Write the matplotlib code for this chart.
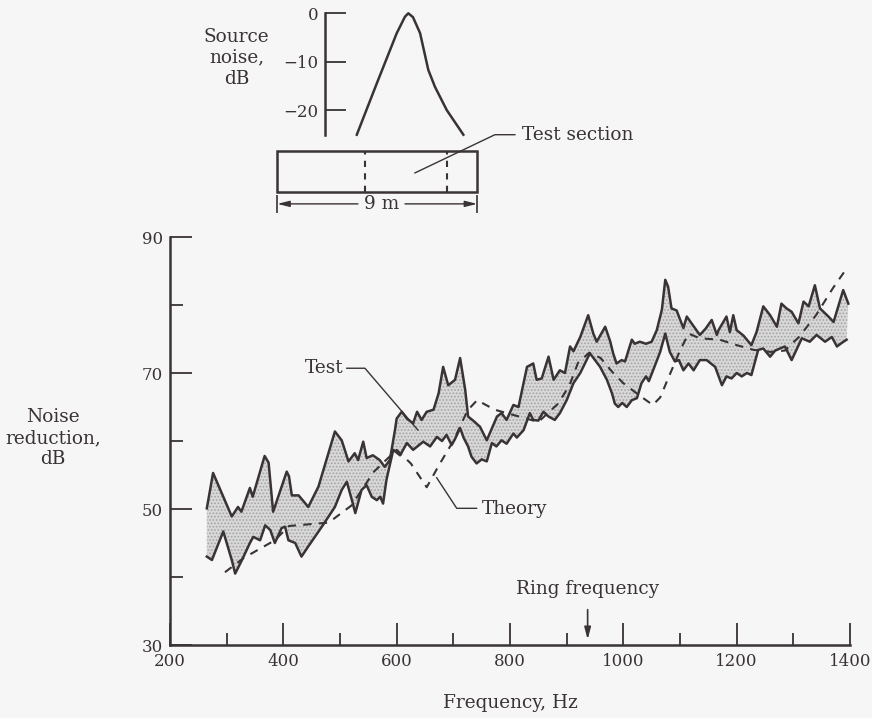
import numpy as np
import matplotlib.pyplot as plt
from matplotlib.patches import Rectangle

plt.rcParams['font.family'] = ['DejaVu Serif']
plt.rcParams['font.size'] = 12
plt.rcParams['hatch.linewidth'] = 0.8

ink = '#3a3335'
bg = '#f6f6f6'
txt = 13.3

# measured noise reduction, upper and lower edges of the band (Hz, dB)
upper_hz = [265, 276, 309, 320, 326, 341, 346, 367, 374, 382, 406, 410, 415, 427, 444,
            462, 491, 503, 515, 526, 532, 541, 547, 558, 570, 579, 588, 597, 600, 609,
            618, 629, 636, 644, 653, 665, 674, 682, 691, 703, 712, 721, 726, 735, 747,
            759, 777, 785, 794, 806, 815, 830, 841, 847, 856, 868, 877, 888, 897, 906,
            912, 924, 938, 947, 953, 968, 977, 982, 988, 997, 1003, 1015, 1020, 1029,
            1040, 1050, 1059, 1068, 1074, 1079, 1085, 1094, 1106, 1112, 1123, 1135,
            1145, 1156, 1165, 1168, 1182, 1188, 1194, 1200, 1212, 1226, 1235, 1247,
            1259, 1271, 1279, 1288, 1297, 1309, 1318, 1327, 1338, 1347, 1362, 1371,
            1388, 1397]
upper_db = [50.1, 55.3, 48.9, 50.3, 49.6, 53.1, 51.8, 57.8, 56.8, 49.6, 55.5, 54.8, 52.0,
            52.0, 50.3, 53.3, 61.4, 60.1, 57.0, 58.2, 57.2, 59.9, 57.5, 57.9, 57.2, 56.2,
            57.2, 61.6, 63.3, 64.3, 63.3, 62.6, 64.3, 63.1, 64.3, 64.6, 67.0, 70.9, 68.2,
            69.0, 72.2, 67.5, 63.6, 63.0, 62.1, 60.1, 63.6, 64.1, 63.1, 65.3, 65.0, 70.9,
            71.4, 69.0, 69.2, 72.4, 69.0, 70.4, 70.0, 73.9, 73.2, 75.3, 78.5, 75.8, 74.6,
            76.8, 74.6, 72.9, 71.4, 71.9, 71.7, 74.9, 74.3, 74.6, 74.3, 74.6, 76.3, 79.3,
            83.7, 82.7, 79.5, 79.2, 76.6, 78.3, 77.0, 75.6, 76.5, 77.8, 75.6, 76.3, 78.3,
            76.0, 78.5, 76.3, 75.5, 74.1, 76.0, 79.8, 78.5, 76.8, 80.2, 79.5, 79.0, 77.3,
            80.5, 79.8, 82.9, 79.5, 78.3, 77.5, 82.2, 80.2]

lower_hz = [265, 274, 294, 309, 315, 327, 341, 347, 359, 368, 377, 385, 397, 403, 409,
            421, 432, 444, 468, 491, 503, 512, 521, 527, 538, 547, 556, 565, 571, 576,
            582, 594, 606, 618, 629, 647, 659, 671, 680, 688, 697, 703, 712, 718, 726,
            732, 741, 750, 759, 768, 776, 785, 794, 806, 812, 824, 835, 841, 850, 859,
            868, 879, 888, 900, 912, 924, 941, 959, 971, 980, 985, 991, 998, 1006, 1015,
            1024, 1032, 1040, 1045, 1053, 1065, 1074, 1082, 1091, 1098, 1106, 1115, 1124,
            1135, 1147, 1162, 1174, 1182, 1191, 1200, 1209, 1218, 1226, 1238, 1247, 1259,
            1268, 1285, 1297, 1306, 1315, 1329, 1341, 1356, 1368, 1377, 1385, 1394]
lower_db = [43.0, 42.5, 46.7, 42.5, 40.5, 42.5, 45.0, 45.9, 45.4, 47.6, 46.9, 45.0, 47.2,
            47.4, 45.4, 45.0, 43.0, 44.5, 47.4, 50.3, 52.8, 54.0, 51.3, 49.4, 52.8, 53.5,
            51.8, 51.3, 51.8, 50.8, 54.3, 58.7, 57.9, 59.7, 58.7, 59.9, 59.2, 60.6, 60.0,
            60.9, 59.4, 60.3, 61.9, 60.5, 59.2, 57.7, 56.7, 57.3, 57.0, 59.7, 59.2, 60.1,
            59.6, 61.1, 60.5, 61.6, 64.1, 63.1, 63.0, 64.3, 63.6, 63.1, 64.1, 66.0, 68.5,
            70.0, 72.9, 70.9, 69.0, 67.0, 65.5, 65.0, 65.6, 65.0, 66.0, 66.3, 68.5, 69.5,
            68.8, 70.5, 73.1, 75.8, 73.1, 71.7, 71.9, 70.4, 71.4, 70.4, 71.9, 71.9, 70.9,
            68.2, 69.5, 69.2, 70.0, 69.5, 70.0, 69.7, 73.4, 73.6, 72.4, 73.3, 73.9, 71.9,
            73.5, 75.1, 74.6, 75.6, 74.6, 75.3, 73.9, 74.4, 74.9]

# theory curve
theory_hz = [297, 330, 385, 410, 480, 520, 560, 600, 625, 653, 675, 700, 725, 742, 773,
             850, 885, 905, 920, 940, 960, 980, 1000, 1030, 1052, 1065, 1078, 1100, 1115,
             1135, 1170, 1200, 1230, 1260, 1285, 1310, 1340, 1370, 1396]
theory_db = [40.7, 42.8, 45.4, 47.5, 48.0, 50.5, 55.5, 58.7, 56.7, 53.2, 56.5, 60.0, 64.5,
             66.0, 64.6, 62.8, 65.5, 68.2, 71.5, 73.0, 72.2, 70.2, 68.5, 66.6, 65.3, 66.4,
             69.0, 73.3, 75.8, 75.1, 74.9, 74.1, 73.4, 73.1, 73.3, 75.3, 78.5, 82.5, 85.6]

ring_hz = 937

# source noise level along the tube (m, dB)
src_pos_m = [3.58, 4.48, 5.38, 5.75, 5.9, 6.11, 6.43, 6.8, 7.1, 7.63, 8.38]
src_db = [-25.1, -14.5, -4.1, -0.7, 0.0, -0.8, -4.1, -11.7, -15.2, -20.0, -25.1]
tube_len_m = 9
section_m = [3.95, 7.63]

fig = plt.figure(figsize=(8.72, 7.18), dpi=100, facecolor=bg)

# ---- main chart ----
ax = fig.add_axes([170 / 872, 1 - 645 / 718, 680 / 872, 408 / 718], facecolor=bg)
band_x = np.r_[upper_hz, lower_hz[::-1]]
band_y = np.r_[upper_db, lower_db[::-1]]
ax.fill(band_x, band_y, facecolor='#d8d8d8', edgecolor='#a4a4a4', hatch='.....', linewidth=0)
ax.plot(upper_hz, upper_db, color=ink, lw=1.8)
ax.plot(lower_hz, lower_db, color=ink, lw=1.8)
ax.plot(theory_hz, theory_db, color=ink, lw=1.5, ls=(0, (4, 3.5)))

ax.set_xlim(200, 1400)
ax.set_ylim(30, 90)
for s in ['top', 'right']:
    ax.spines[s].set_visible(False)
for s in ['left', 'bottom']:
    ax.spines[s].set_linewidth(1.8)
    ax.spines[s].set_color(ink)
ax.set_xticks(np.arange(200, 1401, 200))
ax.set_xticks(np.arange(300, 1400, 200), minor=True)
ax.set_yticks([30, 50, 70, 90])
ax.set_yticks([40, 60, 80], minor=True)
ax.tick_params(which='major', direction='in', length=16, width=1.3, color=ink, labelcolor=ink)
ax.tick_params(which='minor', direction='in', length=9, width=1.3, color=ink)
ax.tick_params(axis='x', pad=6)
ax.tick_params(axis='y', pad=5)

ax.set_xlabel('Frequency, Hz', color=ink, labelpad=17, fontsize=txt)
ax.set_ylabel('Noise\nreduction,\ndB', rotation=0, color=ink, ha='center', va='center',
              multialignment='center', fontsize=txt)
ax.yaxis.set_label_coords(-0.172, 0.507)

ax.plot([512, 544, 637.6], [70.7, 70.7, 61.6], color=ink, lw=1.0)
ax.text(507, 70.7, 'Test', ha='right', va='center', color=ink, fontsize=txt)
ax.plot([670.6, 706, 741], [54.6, 50.1, 50.1], color=ink, lw=1.0)
ax.text(750, 50.0, 'Theory', ha='left', va='center', color=ink, fontsize=txt)

ax.annotate('', xy=(ring_hz, 30.4), xytext=(ring_hz, 35.6),
            arrowprops=dict(arrowstyle='-|>,head_length=0.6,head_width=0.16', color=ink, lw=1.2))
ax.text(ring_hz, 38.3, 'Ring frequency', ha='center', va='center', color=ink, fontsize=txt)

# ---- source noise sketch ----
ax2 = fig.add_axes([250 / 872, 1 - 215 / 718, 260 / 872, (215 - 13.3) / 718])
ax2.patch.set_visible(False)
ax2.set_xlim(-1.23, 10.48)
ax2.set_ylim(-41.7, 0)
for s in ['top', 'right', 'bottom']:
    ax2.spines[s].set_visible(False)
ax2.spines['left'].set_position(('data', 2.15))
ax2.spines['left'].set_bounds(-25.1, 0)
ax2.spines['left'].set_linewidth(1.8)
ax2.spines['left'].set_color(ink)
ax2.set_xticks([])
ax2.set_yticks([0, -10, -20])
ax2.tick_params(direction='in', length=15, width=1.3, color=ink, labelcolor=ink, pad=5)

ax2.plot(src_pos_m, src_db, color=ink, lw=1.8, clip_on=False)
ax2.text(-1.83, -9.2, 'Source\nnoise,\ndB', ha='center', va='center', color=ink,
         multialignment='center', fontsize=txt)

tube_top, tube_bot = -28.45, -36.86
ax2.add_patch(Rectangle((0, tube_bot), tube_len_m, tube_top - tube_bot, fill=False,
                        lw=1.8, ec=ink, clip_on=False))
ax2.vlines(section_m, tube_bot, tube_top, colors=ink, lw=1.5, linestyles=(0, (3, 3)))

# 9 m dimension line, split around its label
dim_y = -39.4
dim_label_m = 4.7
ax2.vlines([0, tube_len_m], -37.5, -41.3, colors=ink, lw=1.2, clip_on=False)
arrow = dict(arrowstyle='-|>,head_length=0.6,head_width=0.15', color=ink, lw=1.0,
             shrinkA=0, shrinkB=0)
ax2.annotate('', xy=(0, dim_y), xytext=(3.63, dim_y), arrowprops=arrow)
ax2.annotate('', xy=(tube_len_m, dim_y), xytext=(5.75, dim_y), arrowprops=arrow)
ax2.text(dim_label_m, dim_y, '9 m', ha='center', va='center', color=ink, fontsize=txt)

ax2.plot([6.2, 9.8, 10.7], [-33.0, -25.1, -25.1], color=ink, lw=1.0, clip_on=False)
ax2.text(11.0, -25.1, 'Test section', ha='left', va='center', color=ink, fontsize=txt)

plt.savefig('out.png', dpi=100, facecolor=bg)
plt.close()
